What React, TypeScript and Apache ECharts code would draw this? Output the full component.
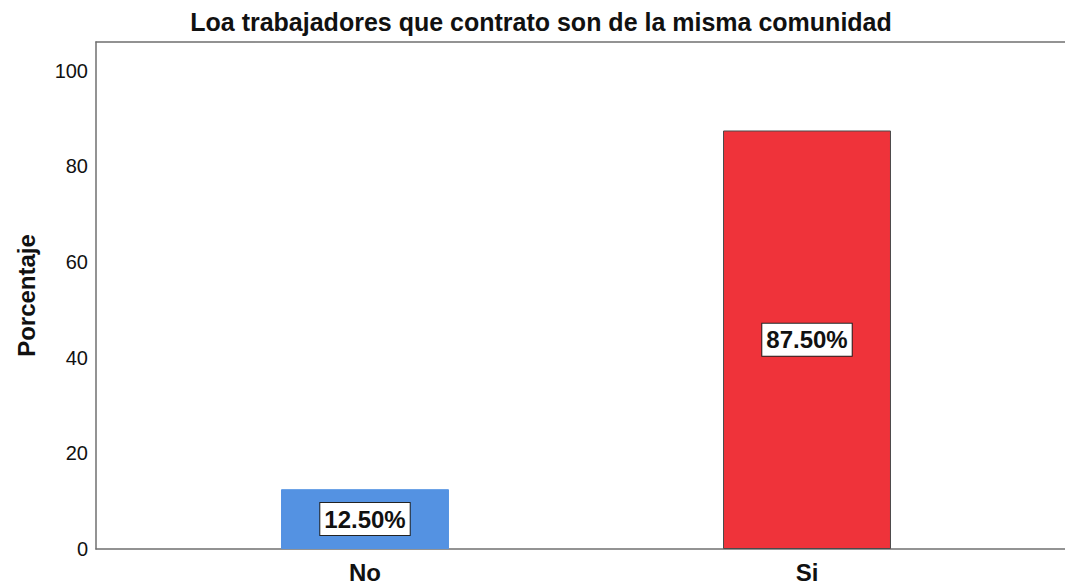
import React, { useEffect, useRef } from "react";
import * as echarts from "echarts";

const TITLE = "Loa trabajadores que contrato son de la misma comunidad";
const Y_NAME = "Porcentaje";
const CATEGORIES = ["No", "Si"];
const VALUES = [12.5, 87.5];
const BAR_COLORS = ["#5492E2", "#EF333A"];
const BAR_BORDERS = ["#5492E2", "#4a4a4a"];
const Y_MIN = 0;
const Y_MAX = 106;
const Y_INTERVAL = 20;

const FONT = "'Liberation Sans', Arial, Helvetica, sans-serif";
const FRAME = { show: true, lineStyle: { color: "#6f6f6f", width: 1.5 } };

export default function App() {
  const ref = useRef<HTMLDivElement>(null);
  useEffect(() => {
    if (!ref.current) return;
    const chart = echarts.init(ref.current, undefined, { renderer: "svg" });
    chart.setOption({
      animation: false,
      backgroundColor: "#ffffff",
      textStyle: { fontFamily: FONT },
      title: {
        text: TITLE,
        left: 536,
        textAlign: "center",
        top: 4,
        textStyle: { fontFamily: FONT, fontSize: 25, fontWeight: "bold", color: "#111" },
      },
      grid: [
        { left: 96, right: 0, top: 42, bottom: 37 },
        { left: 144, right: 37, top: 42, bottom: 37 },
      ],
      xAxis: [
        {
          type: "value", gridIndex: 0, position: "bottom", min: 0, max: 1,
          axisLine: FRAME, axisTick: { show: false }, axisLabel: { show: false }, splitLine: { show: false },
        },
        {
          type: "value", gridIndex: 0, position: "top", min: 0, max: 1,
          axisLine: FRAME, axisTick: { show: false }, axisLabel: { show: false }, splitLine: { show: false },
        },
        {
          type: "category",
          gridIndex: 1,
          data: CATEGORIES,
          axisLine: { show: false },
          axisTick: { show: false },
          axisLabel: {
            fontFamily: FONT,
            fontSize: 24,
            fontWeight: "bold",
            color: "#111",
            margin: 11,
          },
        },
      ],
      yAxis: [
        {
          type: "value",
          gridIndex: 0,
          min: Y_MIN,
          max: Y_MAX,
          interval: Y_INTERVAL,
          splitLine: { show: false },
          axisTick: { show: false },
          axisLine: FRAME,
          axisLabel: {
            fontFamily: FONT,
            fontSize: 20,
            color: "#111",
            margin: 8,
            formatter: (v: number) => (v % Y_INTERVAL === 0 ? String(v) : ""),
          },
          name: Y_NAME,
          nameLocation: "middle",
          nameRotate: 90,
          nameGap: 58,
          nameTextStyle: { fontFamily: FONT, fontSize: 24, fontWeight: "bold", color: "#111" },
        },
        { type: "value", gridIndex: 1, min: Y_MIN, max: Y_MAX, show: false, splitLine: { show: false } },
      ],
      series: [
        {
          type: "bar",
          xAxisIndex: 2,
          yAxisIndex: 1,
          barWidth: "38%",
          data: VALUES.map((v, i) => ({
            value: v,
            itemStyle: { color: BAR_COLORS[i], borderColor: BAR_BORDERS[i], borderWidth: 1 },
          })),
          label: {
            show: true,
            position: "inside",
            formatter: (p: any) => Number(p.value).toFixed(2) + "%",
            fontFamily: FONT,
            fontSize: 24,
            fontWeight: "bold",
            color: "#111",
            backgroundColor: "#ffffff",
            borderColor: "#222",
            borderWidth: 1,
            padding: [5, 4, 3, 4],
          },
        },
      ],
    });
    return () => chart.dispose();
  }, []);
  return (
    <div
      ref={ref}
      style={{ position: "fixed", left: 0, top: 0, width: 1065, height: 586, background: "#fff" }}
    />
  );
}
